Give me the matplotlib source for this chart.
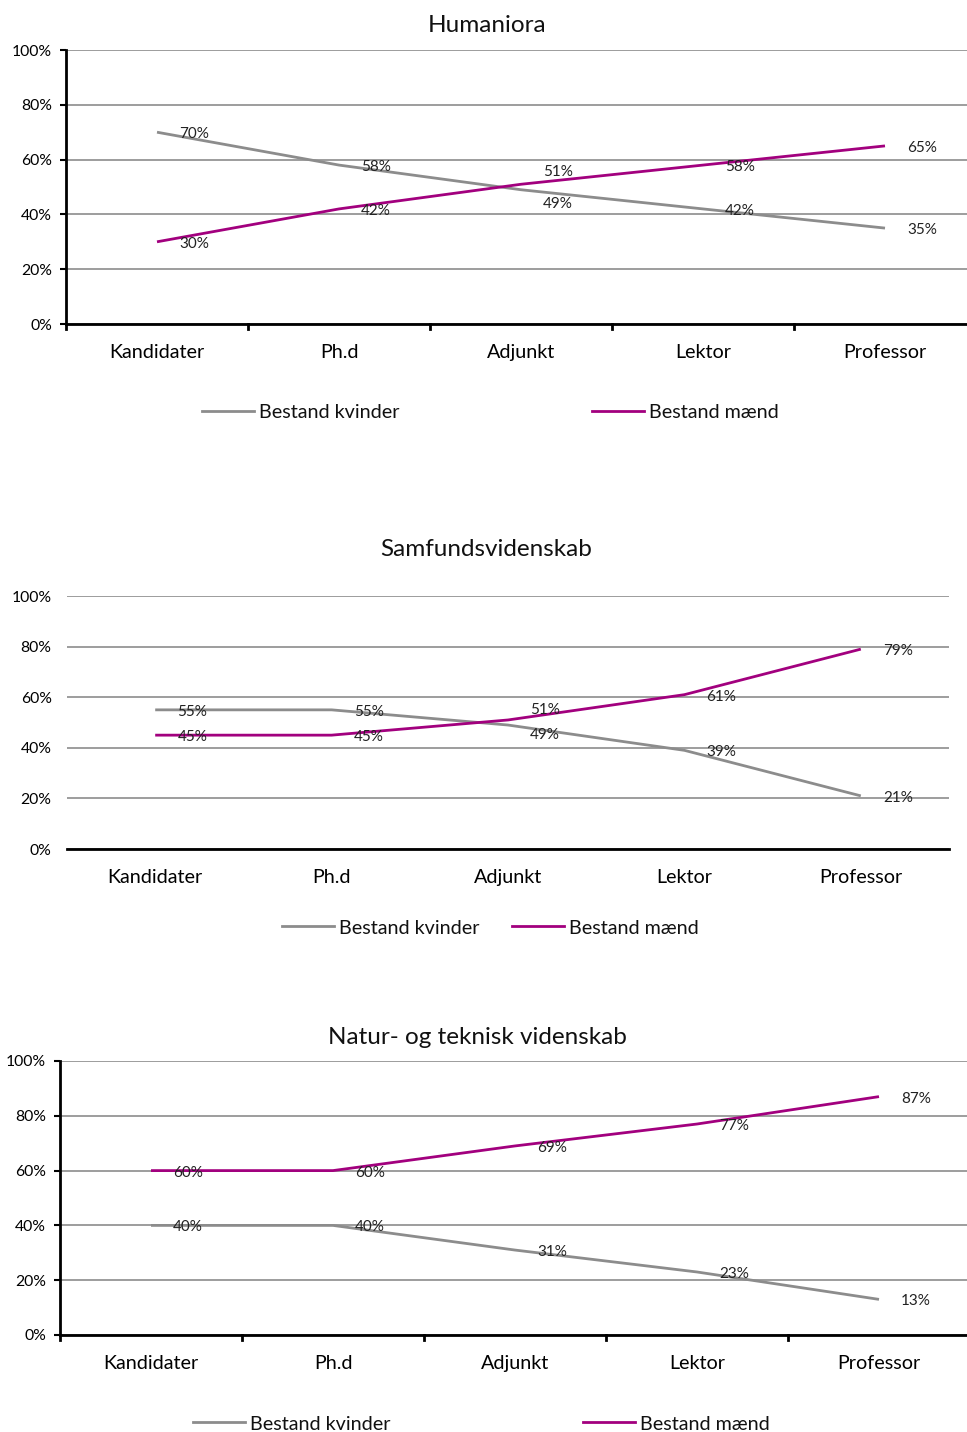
import matplotlib
matplotlib.use("Agg")
import matplotlib.pyplot as plt
from matplotlib.lines import Line2D

plt.rcParams["font.family"] = ["Lato", "DejaVu Sans"]

CATEGORIES = ["Kandidater", "Ph.d", "Adjunkt", "Lektor", "Professor"]
SERIES_NAMES = ["Bestand kvinder", "Bestand mænd"]
Y_TICKS = [0, 20, 40, 60, 80, 100]

HUM_TITLE = "Humaniora"
HUM_KVINDER = [70, 58, 49, 42, 35]
HUM_MAEND = [30, 42, 51, 58, 65]

SAM_TITLE = "Samfundsvidenskab"
SAM_KVINDER = [55, 55, 49, 39, 21]
SAM_MAEND = [45, 45, 51, 61, 79]

NAT_TITLE = "Natur- og teknisk videnskab"
NAT_KVINDER = [40, 40, 31, 23, 13]
NAT_MAEND = [60, 60, 69, 77, 87]

GREY = "#8c8c8c"
MAGENTA = "#a2007e"
W, H = 967, 1432


def px_box(left, top, right, bottom):
    return [left / W, 1 - bottom / H, (right - left) / W, (bottom - top) / H]


def draw_panel(fig, box, title, title_xy, kvinder, maend, legend_pos,
               left_axis=True, label_shift=None):
    ax = fig.add_axes(px_box(*box))
    x = list(range(len(CATEGORIES)))
    ax.plot(x, kvinder, color=GREY, lw=2, solid_capstyle="butt", zorder=3)
    ax.plot(x, maend, color=MAGENTA, lw=2, solid_capstyle="butt", zorder=4)
    ax.set_xlim(-0.5, len(CATEGORIES) - 0.5)
    ax.set_ylim(0, 100)
    ax.set_yticks(Y_TICKS)
    ax.set_yticklabels([f"{v}%" for v in Y_TICKS], fontsize=11.3)
    ax.set_xticks(x)
    ax.set_xticklabels(CATEGORIES, fontsize=14.2)
    ax.tick_params(axis="x", length=0, pad=14.5)
    ax.grid(axis="y", color="#8c8c8c", lw=1.2, zorder=0)
    for s in ["top", "right"]:
        ax.spines[s].set_visible(False)
    ax.spines["bottom"].set_linewidth(2)
    ax.spines["bottom"].set_zorder(5)
    if left_axis:
        ax.spines["left"].set_linewidth(2)
        ax.tick_params(axis="y", length=4, width=1.5, pad=6)
        # boundary ticks between categories
        for b in range(len(CATEGORIES)):
            ax.plot([b - 0.5, b - 0.5], [0, -2], color="black", lw=2,
                    clip_on=False, zorder=5)
    else:
        ax.spines["left"].set_visible(False)
        ax.tick_params(axis="y", length=0, pad=11)

    shifts = label_shift or {}
    for i, (k, m) in enumerate(zip(kvinder, maend)):
        dk, dm = shifts.get(i, (0, 0))
        ax.annotate(f"{k}%", (i, k), xytext=(16, dk - 1.5), textcoords="offset points",
                    ha="left", va="center", fontsize=11, color="#222222", zorder=6)
        ax.annotate(f"{m}%", (i, m), xytext=(16, dm - 1.5), textcoords="offset points",
                    ha="left", va="center", fontsize=11, color="#222222", zorder=6)

    fig.text(title_xy[0] / W, 1 - (title_xy[1] + 2) / H, title, ha="center",
             va="center", fontsize=17.5, color="#111111")

    for (lx, ly), name, col in zip(legend_pos, SERIES_NAMES, [GREY, MAGENTA]):
        fig.add_artist(Line2D([lx / W, (lx + 52) / W], [1 - ly / H, 1 - ly / H],
                              color=col, lw=2))
        fig.text((lx + 57) / W, 1 - (ly + 2) / H, name, ha="left", va="center",
                 fontsize=14.2, color="#111111")
    return ax


fig = plt.figure(figsize=(W / 100, H / 100), dpi=100)

draw_panel(fig, (66, 50, 976, 324), HUM_TITLE, (487, 24), HUM_KVINDER, HUM_MAEND,
           [(202, 411), (592, 411)], label_shift={2: (-9, 10)})
draw_panel(fig, (67, 596, 949, 849), SAM_TITLE, (486, 547), SAM_KVINDER, SAM_MAEND,
           [(282, 926), (512, 926)], left_axis=False, label_shift={2: (-6, 9)})
draw_panel(fig, (60, 1061, 970, 1335), NAT_TITLE, (477, 1035), NAT_KVINDER, NAT_MAEND,
           [(193, 1422), (583, 1422)])

fig.savefig("out.png", dpi=100)
